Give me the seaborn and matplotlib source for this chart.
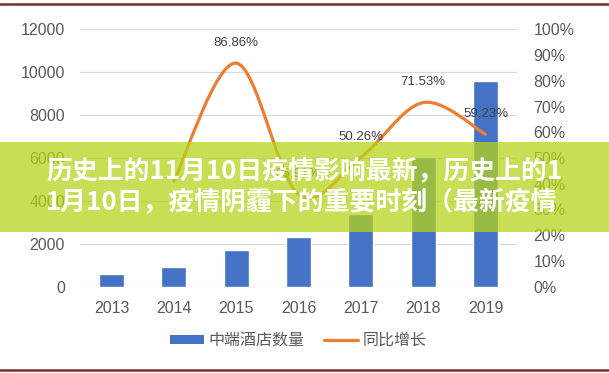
import numpy as np
import matplotlib
matplotlib.use("Agg")
import matplotlib.pyplot as plt
import seaborn as sns
from matplotlib.path import Path
from matplotlib.patches import PathPatch, Patch, Rectangle
from matplotlib.lines import Line2D
from matplotlib.ticker import FuncFormatter

# --- data ---
years = ['2013', '2014', '2015', '2016', '2017', '2018', '2019']
hotel_counts = [590, 900, 1710, 2300, 3400, 6060, 9590]
growth_years = ['2014', '2015', '2016', '2017', '2018', '2019']
growth_pct = [41.0, 86.86, 35.91, 50.26, 71.53, 59.23]
labelled_years = ['2015', '2016', '2017', '2018', '2019']
left_ticks = [0, 2000, 4000, 6000, 8000, 10000, 12000]
right_ticks = [0, 10, 20, 30, 40, 50, 60, 70, 80, 90, 100]
legend_labels = ['中端酒店数量', '同比增长']
banner_lines = ['历史上的11月10日疫情影响最新，历史上的1',
                '1月10日，疫情阴霾下的重要时刻（最新疫情']

BLUE = '#4472c4'
ORANGE = '#ed7d31'
GREY = '#595959'

sns.set_theme(style="white")
plt.rcParams['font.family'] = ['Liberation Sans', 'Noto Sans CJK SC', 'DejaVu Sans']

W, H = 609, 373
fig = plt.figure(figsize=(W / 100, H / 100), dpi=100, facecolor='white')
ax = fig.add_axes([80.3 / W, 1 - 286.7 / H, (516.7 - 80.3) / W, (286.7 - 29.3) / H])

# bars
sns.barplot(x=years, y=hotel_counts, color=BLUE, width=0.4, saturation=1, ax=ax, zorder=3)
ax.set_xlim(-0.5, len(years) - 0.5)
ax.set_ylim(0, 12000)
ax.set_yticks(left_ticks)
ax.set_yticklabels([str(t) for t in left_ticks])
ax.yaxis.grid(True, color='#d9d9d9', lw=0.8, zorder=0)
ax.set_axisbelow(True)
ax.set_xlabel('')
ax.set_ylabel('')
for s in ax.spines.values():
    s.set_visible(False)
ax.tick_params(axis='y', length=0, pad=11, labelsize=11.5, labelcolor=GREY)
ax.tick_params(axis='x', length=0, pad=10, labelsize=11.5, labelcolor=GREY)

# growth line on the secondary axis, smoothed like an Excel "smooth line"
ax2 = ax.twinx()
ax2.set_ylim(0, 1)
ax2.set_yticks([t / 100 for t in right_ticks])
ax2.yaxis.set_major_formatter(FuncFormatter(lambda v, _: f'{v * 100:.0f}%'))
ax2.tick_params(axis='y', length=0, pad=12, labelsize=11.5, labelcolor=GREY)
for s in ax2.spines.values():
    s.set_visible(False)
ax2.grid(False)

pts = np.array([[years.index(y), g / 100] for y, g in zip(growth_years, growth_pct)])
verts = [pts[0]]
codes = [Path.MOVETO]
n = len(pts)
for i in range(n - 1):
    p0 = pts[i - 1] if i > 0 else pts[i]
    p1, p2 = pts[i], pts[i + 1]
    p3 = pts[i + 2] if i + 2 < n else pts[i + 1]
    verts += [p1 + (p2 - p0) / 6, p2 - (p3 - p1) / 6, p2]
    codes += [Path.CURVE4] * 3
ax2.add_patch(PathPatch(Path(verts, codes), facecolor='none', edgecolor=ORANGE,
                        lw=2.3, capstyle='round', joinstyle='round', zorder=4))

for y, g in zip(growth_years, growth_pct):
    if y in labelled_years:
        ax2.annotate(f'{g:.2f}%', (years.index(y), g / 100), xytext=(0, 14.5),
                     textcoords='offset points', ha='center', va='center',
                     fontsize=9.5, color='#404040', zorder=5)

# legend
handles = [Patch(facecolor=BLUE, edgecolor='none'),
           Line2D([], [], color=ORANGE, lw=2.3)]
fig.legend(handles, legend_labels, loc='center', ncol=2,
           bbox_to_anchor=(298.5 / W, 1 - 340.5 / H), frameon=False,
           fontsize=11.5, labelcolor=GREY, handlelength=2.1, handleheight=0.45,
           handletextpad=0.3, columnspacing=1.25)

# banner overlay
fig.add_artist(Rectangle((0, 1 - 231.7 / H), 1, 90 / H, transform=fig.transFigure,
                         facecolor=(0.71, 0.83, 0.11), alpha=0.75, edgecolor='none',
                         zorder=10))
for txt, yc in zip(banner_lines, [172, 203]):
    fig.text(46 / W, 1 - yc / H, txt, ha='left', va='center', fontsize=18.6,
             fontweight='bold', color='white', family=['Noto Sans CJK SC'], zorder=11)

# dark red frame lines at top and bottom
for yy in [4, 369.5]:
    fig.add_artist(Line2D([0, 1], [1 - yy / H, 1 - yy / H], transform=fig.transFigure,
                          color='#7a2f2f', lw=1.8, zorder=12))

fig.savefig('out.png', dpi=100, facecolor='white')
